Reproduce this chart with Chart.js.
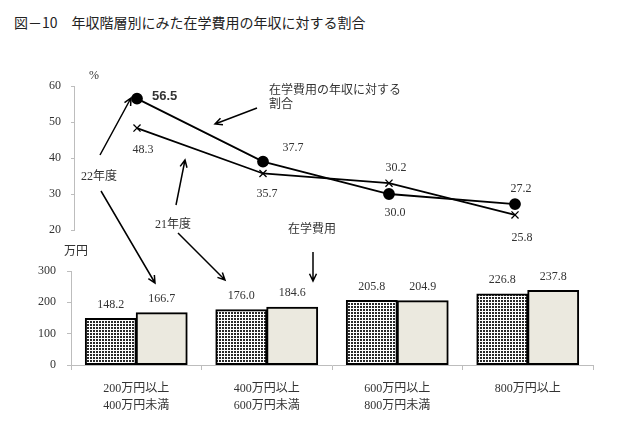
<!DOCTYPE html>
<html>
<head>
<meta charset="utf-8">
<script src="https://cdn.jsdelivr.net/npm/chart.js@4.4.1/dist/chart.umd.min.js"></script>
<style>
  body { margin: 0; background: #fff; }
  #wrap { position: relative; width: 640px; height: 426px; overflow: hidden; }
  #title { position: absolute; left: 14px; top: 12px; font: 14px "Noto Sans CJK JP", sans-serif; color: #222; white-space: pre; }
  canvas { position: absolute; left: 0; }
</style>
</head>
<body>
<div id="wrap">
  <div id="title">図－10　年収階層別にみた在学費用の年収に対する割合</div>
  <canvas id="line" width="640" height="190" style="top:60px"></canvas>
  <canvas id="bar" width="640" height="186" style="top:240px"></canvas>
  <canvas id="notes" width="640" height="426" style="top:0"></canvas>
</div>
<script>
const categories = [
  ['200万円以上', '400万円未満'],
  ['400万円以上', '600万円未満'],
  ['600万円以上', '800万円未満'],
  ['800万円以上'],
];

// ratio of school costs to income (%), where the markers sit in the picture
const ratio22 = [56.5, 39.0, 30.0, 27.2];
const ratio21 = [48.3, 35.7, 33.0, 24.2];
// the numbers printed next to the markers
const ratioText22 = ['56.5', '37.7', '30.0', '27.2'];
const ratioText21 = ['48.3', '35.7', '30.2', '25.8'];

// school costs (万円)
const cost21 = [148.2, 176.0, 205.8, 226.8];
const cost22 = [166.7, 184.6, 204.9, 237.8];

const ratioTicks = [20, 60, 10];
const costTicks = [0, 300, 100];

const serif = '"Liberation Serif", "Noto Sans CJK JP", serif';
const axisGray = '#bdbdbd';
Chart.defaults.font.family = serif;
Chart.defaults.font.size = 12;
Chart.defaults.color = '#333';

function dotPattern() {
  const c = document.createElement('canvas');
  c.width = 3; c.height = 3;
  const g = c.getContext('2d');
  g.fillStyle = '#fff';
  g.fillRect(0, 0, 3, 3);
  g.fillStyle = '#2a2a2a';
  g.fillRect(0, 0, 2, 2);
  return g.createPattern(c, 'repeat');
}

// draws each dataset's value text next to its points
const valueLabels = {
  id: 'valueLabels',
  afterDatasetsDraw(chart) {
    const ctx = chart.ctx;
    ctx.save();
    ctx.fillStyle = '#333';
    ctx.textBaseline = 'middle';
    chart.data.datasets.forEach((ds, i) => {
      const meta = chart.getDatasetMeta(i);
      meta.data.forEach((el, j) => {
        const off = ds.labelOffsets[j];
        ctx.font = off[3] || '12px ' + serif;
        ctx.textAlign = off[2] || 'center';
        ctx.fillText(ds.texts[j], el.x + off[0], el.y + off[1]);
      });
    });
    ctx.restore();
  }
};

new Chart(document.getElementById('line'), {
  type: 'line',
  data: {
    labels: categories,
    datasets: [
      {
        label: '22年度',
        data: ratio22,
        texts: ratioText22,
        labelOffsets: [[15, -2, 'left', 'bold 13px "Liberation Sans", sans-serif'], [30, -14], [6, 19], [6, -15]],
        borderColor: '#000',
        backgroundColor: '#000',
        borderWidth: 1.8,
        pointStyle: 'circle',
        pointRadius: 5,
      },
      {
        label: '21年度',
        data: ratio21,
        texts: ratioText21,
        labelOffsets: [[6, 22], [4, 20], [7, -15], [7, 23]],
        borderColor: '#000',
        backgroundColor: '#000',
        borderWidth: 1.8,
        pointStyle: 'crossRot',
        pointRadius: 5,
        pointBorderWidth: 1.3,
      },
    ],
  },
  options: {
    responsive: false,
    animation: false,
    layout: { padding: { left: 0, right: 62, top: 26, bottom: 20 } },
    plugins: { legend: { display: false }, tooltip: { enabled: false } },
    scales: {
      x: { display: false, offset: true },
      y: {
        min: ratioTicks[0],
        max: ratioTicks[1],
        ticks: { stepSize: ratioTicks[2], padding: 10 },
        grid: { drawOnChartArea: false, tickLength: 3, color: axisGray },
        border: { color: axisGray },
        afterFit(scale) { scale.width = 74; },
      },
    },
  },
  plugins: [valueLabels],
});

new Chart(document.getElementById('bar'), {
  type: 'bar',
  data: {
    labels: categories,
    datasets: [
      {
        label: '21年度',
        data: cost21,
        texts: cost21.map(v => v.toFixed(1)),
        labelOffsets: cost21.map(() => [0, -14]),
        backgroundColor: dotPattern(),
        borderColor: '#000',
        borderWidth: 2,
        borderSkipped: false,
        barPercentage: 1,
        categoryPercentage: 0.78,
        inflateAmount: 0.5,
      },
      {
        label: '22年度',
        data: cost22,
        texts: cost22.map(v => v.toFixed(1)),
        labelOffsets: cost22.map(() => [0, -14]),
        backgroundColor: '#ebe9df',
        borderColor: '#000',
        borderWidth: 2,
        borderSkipped: false,
        barPercentage: 1,
        categoryPercentage: 0.78,
        inflateAmount: 0.5,
      },
    ],
  },
  options: {
    responsive: false,
    animation: false,
    layout: { padding: { left: 0, right: 47, top: 31, bottom: 0 } },
    plugins: { legend: { display: false }, tooltip: { enabled: false } },
    scales: {
      x: {
        ticks: { padding: 10, font: { lineHeight: '17px', family: serif } },
        grid: { drawOnChartArea: false, tickLength: 5, color: axisGray },
        border: { color: axisGray },
        afterFit(scale) { scale.height = 61; },
      },
      y: {
        min: costTicks[0],
        max: costTicks[1],
        ticks: { stepSize: costTicks[2], padding: 11 },
        grid: { drawOnChartArea: false, tickLength: 4, color: axisGray },
        border: { color: axisGray },
        afterFit(scale) { scale.width = 71; },
      },
    },
  },
  plugins: [valueLabels],
});

// notes and arrows laid over both charts
const n = document.getElementById('notes').getContext('2d');
n.fillStyle = '#333';
n.strokeStyle = '#000';
n.lineWidth = 1.5;
n.textBaseline = 'middle';
n.font = '12px ' + serif;

function text(s, x, y, align) {
  n.textAlign = align || 'center';
  n.fillText(s, x, y);
}
function arrow(x1, y1, x2, y2) {
  const a = Math.atan2(y2 - y1, x2 - x1);
  const h = 8;
  n.beginPath();
  n.moveTo(x1, y1);
  n.lineTo(x2, y2);
  n.moveTo(x2 - h * Math.cos(a - 0.45), y2 - h * Math.sin(a - 0.45));
  n.lineTo(x2, y2);
  n.lineTo(x2 - h * Math.cos(a + 0.45), y2 - h * Math.sin(a + 0.45));
  n.stroke();
}

text('%', 94, 76);
text('万円', 76, 252);
text('22年度', 99, 177);
text('21年度', 173, 225);
text('在学費用の年収に対する', 269, 91, 'left');
text('割合', 269, 105, 'left');
text('在学費用', 288, 230, 'left');

arrow(100, 155, 131, 98);
arrow(101, 191, 155, 283);
arrow(176, 205, 185, 160);
arrow(178, 233, 225, 280);
arrow(257, 108, 215, 124);
arrow(313, 252, 313, 281);
</script>
</body>
</html>
